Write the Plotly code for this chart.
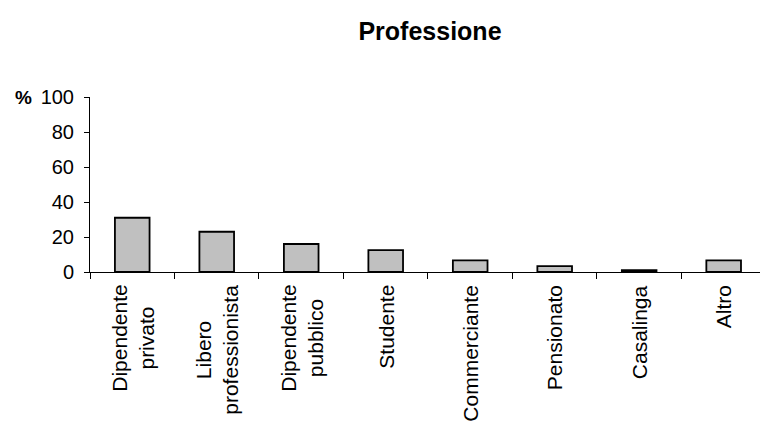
import plotly.graph_objects as go

# Occupation shares (%)
categories = [
    "Dipendente<br>privato",
    "Libero<br>professionista",
    "Dipendente<br>pubblico",
    "Studente",
    "Commerciante",
    "Pensionato",
    "Casalinga",
    "Altro",
]
shares = [31.0, 23.0, 16.0, 12.5, 6.7, 3.4, 1.0, 6.7]
y_ticks = [0, 20, 40, 60, 80, 100]

FONT = "Liberation Sans, Arial, sans-serif"
W, H = 760, 423
ML, MT, MB = 90, 97, 151
PLOT_W = W - ML
PLOT_H = H - MT - MB

fig = go.Figure()
fig.add_trace(go.Bar(
    x=categories,
    y=shares,
    width=0.41,
    marker=dict(color="#c0c0c0", line=dict(color="#000000", width=1.8)),
    showlegend=False,
))

fig.update_layout(
    width=W,
    height=H,
    margin=dict(l=ML, r=0, t=MT, b=MB, pad=0),
    paper_bgcolor="white",
    plot_bgcolor="white",
    font=dict(family=FONT, color="#000000"),
    title=dict(
        text="<b>Professione</b>",
        font=dict(family=FONT, size=25, color="#000000"),
        x=(430 - ML) / PLOT_W,
        xanchor="center",
        xref="paper",
        y=1 - 31 / H,
        yanchor="middle",
        yref="container",
    ),
)

fig.update_xaxes(
    type="category",
    range=[-0.5, 7.43],
    showline=True,
    linecolor="#000000",
    linewidth=1,
    ticks="outside",
    tickson="boundaries",
    ticklen=6,
    tickcolor="#000000",
    tickwidth=1,
    showticklabels=False,
    showgrid=False,
    zeroline=False,
    automargin=False,
)

fig.update_yaxes(
    range=[0, 100],
    tickvals=y_ticks,
    ticktext=[str(v) for v in y_ticks],
    showline=True,
    linecolor="#000000",
    linewidth=1,
    ticks="outside",
    ticklen=5,
    tickcolor="#000000",
    tickwidth=1,
    tickfont=dict(family=FONT, size=20, color="#000000"),
    ticklabelstandoff=6,
    showgrid=False,
    zeroline=False,
    automargin=False,
)

# Category labels: vertical, lines centred, hanging below the axis
for cat in categories:
    fig.add_annotation(
        text=cat,
        x=cat,
        xref="x",
        y=-11 / PLOT_H,
        yref="paper",
        xanchor="center",
        yanchor="top",
        textangle=-90,
        align="center",
        showarrow=False,
        font=dict(family=FONT, size=21, color="#000000"),
    )

# Unit marker beside the top of the value axis
fig.add_annotation(
    text="<b>%</b>",
    xref="paper",
    yref="y",
    x=(13 - ML) / PLOT_W,
    y=100,
    xanchor="left",
    yanchor="middle",
    showarrow=False,
    font=dict(family=FONT, size=19, color="#000000"),
)

fig.write_html("out.html")
